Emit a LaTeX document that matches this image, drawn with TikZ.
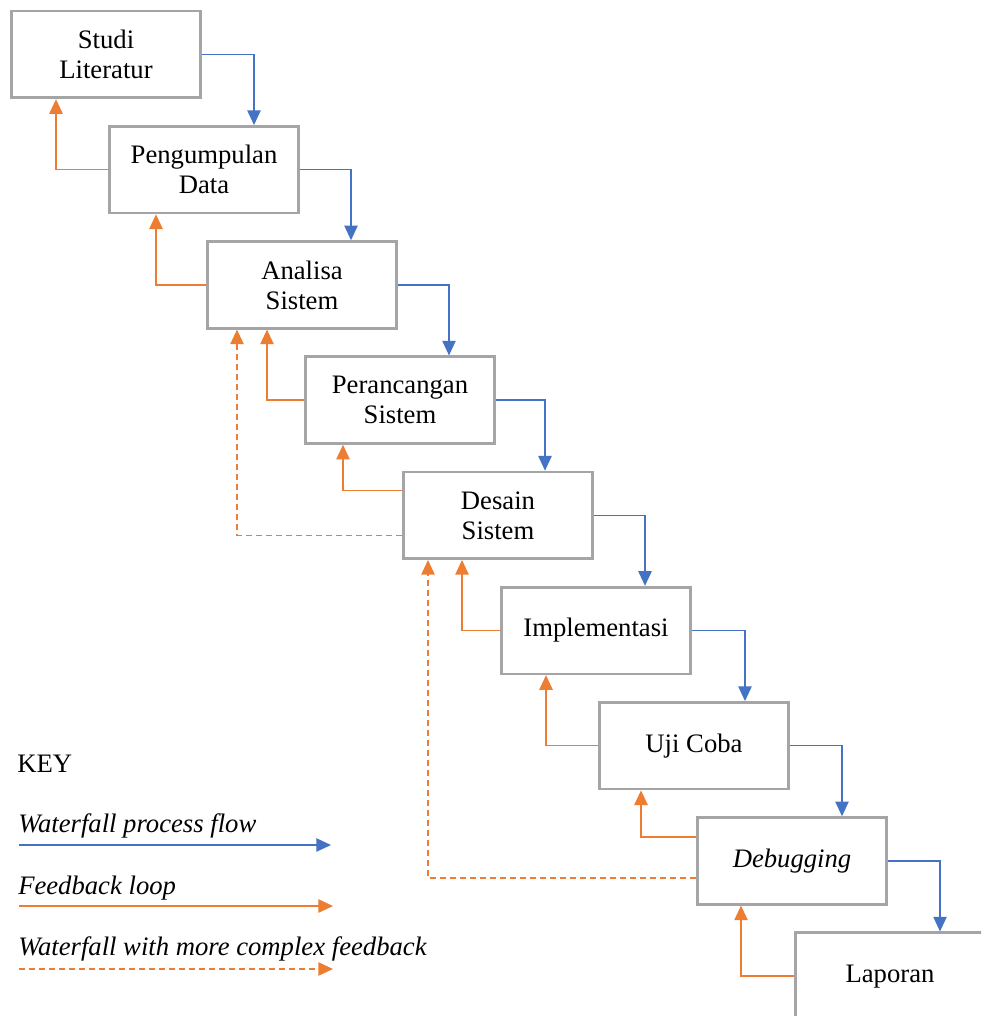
\documentclass[tikz,border=0pt]{standalone}
\usepackage{fontspec}
\setmainfont{Liberation Serif}
\usetikzlibrary{arrows.meta,calc}
\definecolor{flowblue}{HTML}{4472C4}
\definecolor{fborange}{HTML}{ED7D31}
\definecolor{boxgray}{HTML}{A5A5A5}
\begin{document}
\begin{tikzpicture}[x=0.75pt,y=-0.75pt,
  stage/.style={draw=boxgray,line width=2pt,fill=white,minimum width=142pt,minimum height=65pt,inner sep=0pt,align=center,font=\fontsize{20}{22.5}\selectfont},
  flow/.style={draw=flowblue,line width=1.05pt,-{Triangle[width=10pt,length=11pt]}},
  fb/.style={draw=fborange,line width=1.15pt,-{Triangle[width=10pt,length=11pt]}},
  fbx/.style={fb,dash pattern=on 4.5pt off 3pt},
  keytext/.style={anchor=base west,inner sep=0pt,font=\fontsize{20}{22.5}\selectfont}]
\clip (0,0) rectangle (981,1016);
\fill[white] (0,0) rectangle (981,1016);
% stages
\node[stage] (s1) at (106,54.5) {Studi\\Literatur};
\node[stage] (s2) at (204,169.7) {Pengumpulan\\Data};
\node[stage] (s3) at (302,284.9) {Analisa\\Sistem};
\node[stage] (s4) at (400,400.1) {Perancangan\\Sistem};
\node[stage] (s5) at (498,515.3) {Desain\\Sistem};
\node[stage] (s6) at (596,630.5) {Implementasi};
\node[stage] (s7) at (694,745.7) {Uji Coba};
\node[stage] (s8) at (792,860.9) {\textit{Debugging}};
\node[stage] (s9) at (890,976.1) {Laporan};
% waterfall flow
\draw[flow] (s1.east) -| ($(s2.north)+(50,0)$);
\draw[flow] (s2.east) -| ($(s3.north)+(49,0)$);
\draw[flow] (s3.east) -| ($(s4.north)+(49,0)$);
\draw[flow] (s4.east) -| ($(s5.north)+(47,0)$);
\draw[flow] (s5.east) -| ($(s6.north)+(49,0)$);
\draw[flow] (s6.east) -| ($(s7.north)+(51,0)$);
\draw[flow] (s7.east) -| ($(s8.north)+(50,0)$);
\draw[flow] (s8.east) -| ($(s9.north)+(50,0)$);
% feedback loops
\draw[fb] (s2.west) -| ($(s1.south)+(-50,0)$);
\draw[fb] (s3.west) -| ($(s2.south)+(-48,0)$);
\draw[fb] (s4.west) -| ($(s3.south)+(-35,0)$);
\draw[fb] ($(s5.west)+(0,-25)$) -| ($(s4.south)+(-57,0)$);
\draw[fbx] ($(s5.west)+(0,20)$) -| ($(s3.south)+(-65,0)$);
\draw[fb] (s6.west) -| ($(s5.south)+(-36,0)$);
\draw[fb] (s7.west) -| ($(s6.south)+(-50,0)$);
\draw[fb] ($(s8.west)+(0,-24)$) -| ($(s7.south)+(-53,0)$);
\draw[fbx] ($(s8.west)+(0,17)$) -| ($(s5.south)+(-70,0)$);
\draw[fb] (s9.west) -| ($(s8.south)+(-51,0)$);
% key
\node[keytext] (key) at (17,772) {KEY};
\node[keytext] (k1) at (18,832) {\itshape Waterfall process flow};
\coordinate (k1a) at (19,845); \coordinate (k1b) at (331,845);
\draw[flow] (k1a) -- (k1b);
\node[keytext] (k2) at (18,894) {\itshape Feedback loop};
\coordinate (k2a) at (19,906); \coordinate (k2b) at (333,906);
\draw[fb] (k2a) -- (k2b);
\node[keytext] (k3) at (18,955) {\itshape Waterfall with more complex feedback};
\coordinate (k3a) at (19,969); \coordinate (k3b) at (333,969);
\draw[fbx] (k3a) -- (k3b);
\end{tikzpicture}
\end{document}
